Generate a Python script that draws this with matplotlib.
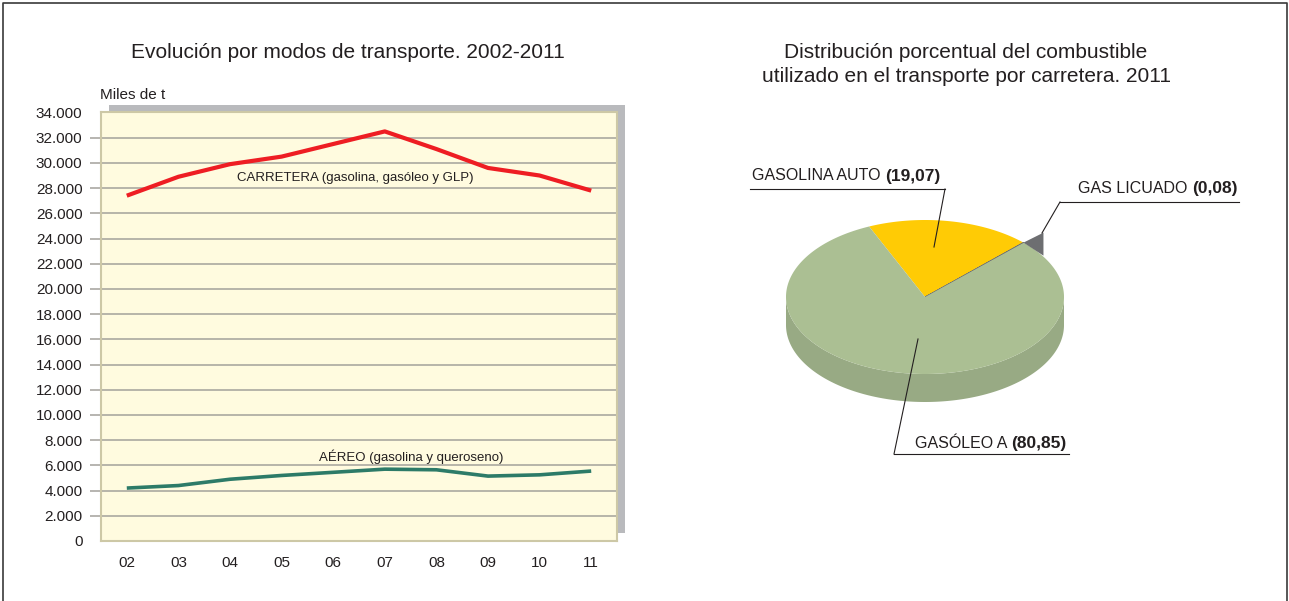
import matplotlib
matplotlib.use('Agg')
import matplotlib.pyplot as plt
import numpy as np
from matplotlib.patches import Polygon, Rectangle
from matplotlib.ticker import FuncFormatter

# ---------------- data ----------------
years = ['02', '03', '04', '05', '06', '07', '08', '09', '10', '11']
carretera = [27400, 28900, 29900, 30500, 31500, 32500, 31100, 29600, 29000, 27800]
aereo = [4200, 4400, 4900, 5200, 5450, 5700, 5650, 5150, 5250, 5550]
y_ticks = list(range(0, 34001, 2000))

pie_names = ['GASOLINA AUTO', 'GAS LICUADO', 'GASÓLEO A']
pie_values = [19.07, 0.08, 80.85]

# ---------------- style ----------------
plt.rcParams['font.family'] = ['Liberation Sans', 'DejaVu Sans']
NARROW = ['Liberation Sans Narrow', 'Liberation Sans', 'DejaVu Sans']
TXT = '#231f20'
pie_top = ['#ffcb05', '#6d6e71', '#abbf93']
pie_side = ['#dcae00', '#58595b', '#98aa84']

W, H = 1289, 601
fig = plt.figure(figsize=(W / 100, H / 100), dpi=100)
bg = fig.add_axes([0, 0, 1, 1], zorder=0)
bg.set_xlim(0, W)
bg.set_ylim(H, 0)
bg.axis('off')

# outer frame (top, left, right only)
bg.plot([2.5, 2.5, W - 2.5, W - 2.5], [H + 2, 2.5, 2.5, H + 2], color='#3a3a3a',
        lw=1.2, clip_on=False)

# ---------------- line chart ----------------
L, R, T, B = 101, 617, 112.5, 541
bg.add_patch(Rectangle((L + 8, T - 8), R - L, B - T, fc='#b9babd', ec='none'))
ax = fig.add_axes([L / W, 1 - B / H, (R - L) / W, (B - T) / H], zorder=2)
ax.set_facecolor('#fffbdf')
x = np.arange(len(years))
ax.plot(x, carretera, color='#ee1d23', lw=3.0, solid_capstyle='butt', zorder=3)
ax.plot(x, aereo, color='#2d7b68', lw=2.6, solid_capstyle='butt', zorder=3)
ax.set_xlim(-0.5, len(years) - 0.5)
ax.set_ylim(0, 34000)
ax.set_xticks(x)
ax.set_xticklabels(years)
ax.set_yticks(y_ticks)
ax.yaxis.set_major_formatter(FuncFormatter(lambda v, p: f'{int(v):,}'.replace(',', '.')))
ax.grid(axis='y', color='#a3a19b', lw=1.1)
ax.set_axisbelow(True)
ax.tick_params(axis='y', length=7.9, width=1.1, color='#a3a19b', pad=5.5, labelcolor=TXT)
ax.tick_params(axis='x', length=0, pad=11, labelcolor=TXT)
for lab in ax.get_xticklabels() + ax.get_yticklabels():
    lab.set_family(NARROW)
    lab.set_fontsize(11)
yt = ax.yaxis.get_major_ticks()
yt[0].tick1line.set_visible(False)
yt[-1].tick1line.set_visible(False)
for s in ax.spines.values():
    s.set_color('#cdc8a6')
    s.set_linewidth(1.5)

ax.text(355, 181.5, 'CARRETERA (gasolina, gasóleo y GLP)', transform=bg.transData,
        ha='center', va='baseline', fontsize=9.5, color=TXT, zorder=4)
ax.text(411, 460.5, 'AÉREO (gasolina y queroseno)', transform=bg.transData,
        ha='center', va='baseline', fontsize=9.5, color=TXT, zorder=4)

bg.text(347.5, 57.5, 'Evolución por modos de transporte. 2002-2011', ha='center',
        va='baseline', fontsize=15, color=TXT)
bg.text(100, 99, 'Miles de t', ha='left', va='baseline', fontsize=11, color=TXT)

# ---------------- pie chart (3D look) ----------------
bg.text(966, 58.5, 'Distribución porcentual del combustible', ha='center',
        va='baseline', fontsize=15, color=TXT)
bg.text(966, 82.5, 'utilizado en el transporte por carretera. 2011', ha='center',
        va='baseline', fontsize=15, color=TXT)

cx, cy, rx, ry, depth = 925, 297, 139, 77, 28
start = 113.7


def pt(t, dy=0.0):
    r = np.radians(t)
    return (cx + rx * np.cos(r), cy - ry * np.sin(r) + dy)


angles = start - np.cumsum([0] + pie_values) / sum(pie_values) * 360.0

# side walls (front half)
for i in range(len(pie_values)):
    a0, a1 = angles[i], angles[i + 1]
    for k in range(-2, 2):
        lo, hi = 180 + 360 * k, 360 + 360 * k
        s, e = max(a1, lo), min(a0, hi)
        if e > s:
            ts = np.linspace(s, e, 200)
            poly = [pt(t) for t in ts] + [pt(t, depth) for t in ts[::-1]]
            bg.add_patch(Polygon(poly, closed=True, fc=pie_side[i], ec='none'))

# top faces
for i in range(len(pie_values)):
    n = max(3, int(abs(angles[i] - angles[i + 1]) * 2))
    ts = np.linspace(angles[i], angles[i + 1], n)
    poly = [(cx, cy)] + [pt(t) for t in ts]
    lw = 0.6 if pie_values[i] < 1 else 0
    bg.add_patch(Polygon(poly, closed=True, fc=pie_top[i], ec=pie_top[i], lw=lw))

# visible wall of the tiny gas slice
gmid = (angles[1] + angles[2]) / 2
ex, ey = pt(gmid)
bg.add_patch(Polygon([(ex, ey), (ex + 20, ey - 10), (ex + 20, ey + 13)], closed=True,
                     fc=pie_top[1], ec='none'))


# labels with leader lines
def pie_label(i, tx, ty, line_x0, line_x1, line_y, tip):
    val = f'({pie_values[i]:.2f})'.replace('.', ',')
    t1 = bg.text(tx, ty, pie_names[i] + ' ', ha='left', va='baseline', fontsize=11.5, color=TXT)
    bg.annotate(val, xy=(1, 0), xycoords=t1, ha='left', va='bottom', fontsize=12.5,
                fontweight='bold', color=TXT)
    bg.plot([line_x0, line_x1], [line_y, line_y], color=TXT, lw=0.8)
    anchor = line_x1 if tip[0] > (line_x0 + line_x1) / 2 else line_x0
    bg.plot([anchor, tip[0]], [line_y, tip[1]], color=TXT, lw=0.8)


pie_label(0, 752, 180.5, 750, 945, 189, (934, 247))
pie_label(1, 1078, 193, 1060, 1239, 202, (1042, 233))
pie_label(2, 915, 448, 894, 1069, 454, (918, 339))

fig.savefig('out.png', dpi=100)
